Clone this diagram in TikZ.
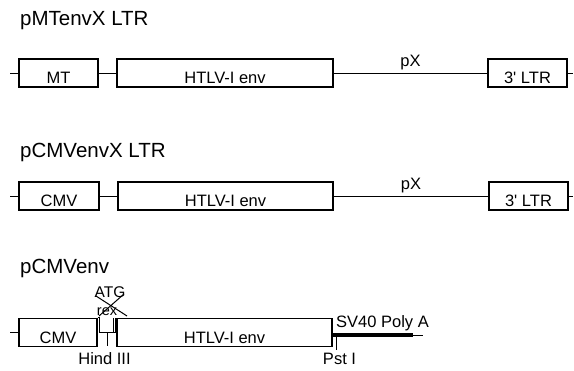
\documentclass[tikz,border=0pt]{standalone}
\usepackage{fontspec}
\setmainfont{Liberation Sans}
\usetikzlibrary{calc}

\tikzset{
  seg/.style={draw, line width=1.2pt, minimum height=28pt, inner sep=0pt,
    text height=22pt, text depth=0pt, font=\fontsize{16.5}{18}\selectfont},
  ttl/.style={anchor=base west, inner sep=0pt, font=\fontsize{20.5}{22}\selectfont},
  lbl/.style={inner sep=0pt, font=\fontsize{16.5}{18}\selectfont},
  wire/.style={line width=0.9pt}
}

\begin{document}
\begin{tikzpicture}[x=1pt, y=-1pt]
\useasboundingbox (0,0) rectangle (574,371);

% pMTenvX LTR
\node[ttl] (t1) at (20,26) {pMTenvX LTR};
\node[seg, minimum width=79pt] (mt1) at (58.5,73) {MT\hspace{6pt}};
\node[seg, minimum width=216pt] (env1) at (225,73) {HTLV-I env\hspace{10pt}};
\node[seg, minimum width=79pt] (ltr1) at (527.5,73) {3\textquotesingle\ LTR};
\coordinate (a1) at (10,73);
\coordinate (b1) at (573,73);
\draw[wire] (a1) -- (mt1.west);
\draw[wire] (mt1.east) -- (env1.west);
\draw[wire] (env1.east) -- (ltr1.west) node[lbl, midway, above=3pt] (px1) {pX};
\draw[wire] (ltr1.east) -- (b1);

% pCMVenvX LTR
\node[ttl] (t2) at (20,158) {pCMVenvX LTR};
\node[seg, minimum width=80pt] (cmv2) at (59,196) {CMV\hspace{6pt}};
\node[seg, minimum width=215pt] (env2) at (225.5,196) {HTLV-I env\hspace{10pt}};
\node[seg, minimum width=79pt] (ltr2) at (528.5,196) {3\textquotesingle\ LTR};
\coordinate (a2) at (10,196);
\coordinate (b2) at (573,196);
\draw[wire] (a2) -- (cmv2.west);
\draw[wire] (cmv2.east) -- (env2.west);
\draw[wire] (env2.east) -- (ltr2.west) node[lbl, midway, above=3pt] (px2) {pX};
\draw[wire] (ltr2.east) -- (b2);

% pCMVenv
\node[ttl] (t3) at (20,274) {pCMVenv};
\node[seg, minimum width=78pt] (cmv3) at (58,332.5) {CMV\hspace{6pt}};
\node[seg, minimum width=215pt] (env3) at (224.5,332.5) {HTLV-I env\hspace{10pt}};
\coordinate (a3) at (10,332.5);
\draw[wire] (a3) -- (cmv3.west);

% rex exon, Hind III site and deleted ATG
\draw[wire] (cmv3.north east) -| (99.5,332.5) -- (env3.west);
\draw[wire] (113,318.5) -- (113,332.5);
\draw[wire] (115.5,318.5) -- (115.5,332.5);
\draw[wire] (107,332.5) -- (107,346);
\node[lbl] (hind) at (104.5,359) {Hind III};
\node[lbl, font=\fontsize{15.5}{17}\selectfont] (atg) at (110,292) {ATG};
\node[lbl, font=\fontsize{14.5}{16}\selectfont] (rex) at (107,312) {rex};
\draw[line width=1pt] (96,296) -- (127,316) (124,294) -- (99,316);

% SV40 poly A and Pst I site
\coordinate (pa) at (413,335);
\coordinate (pb) at (423,335);
\draw[line width=4pt] (env3.east |- pa) -- (pa);
\draw[wire] (pa) -- (pb);
\node[lbl, anchor=base west] (sv) at (336,328) {SV40 Poly A};
\draw[wire] (336,335) -- (336,350);
\node[lbl] (pst) at (339.5,359) {Pst I};

\end{tikzpicture}
\end{document}
